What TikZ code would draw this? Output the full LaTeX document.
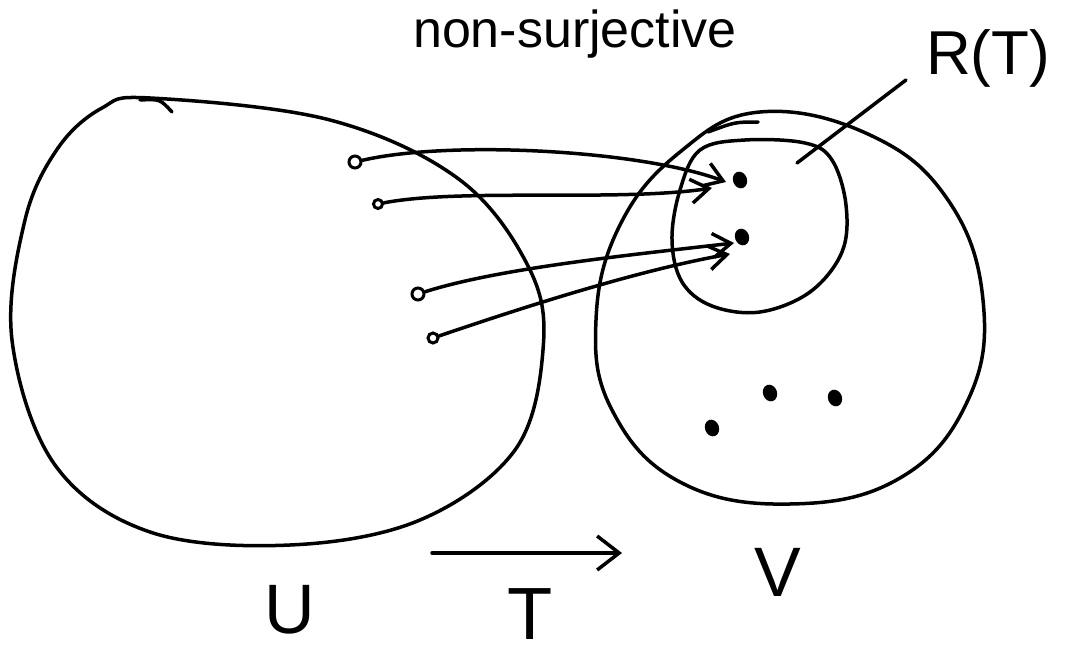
\documentclass[tikz,border=0pt]{standalone}
\usepackage{fontspec}
\setmainfont{Liberation Sans}
\usetikzlibrary{arrows.meta,shapes.geometric}
\begin{document}
\begin{tikzpicture}[x=1pt,y=-1pt,
  ink/.style={line width=3.5pt,line cap=round,line join=round},
  odot/.style={circle,draw,line width=3pt,inner sep=0pt,minimum size=12pt},
  fdot/.style={ellipse,fill,inner sep=0pt,minimum width=14pt,minimum height=17pt,rotate=20},
  maparrow/.style={ink,-{Straight Barb[length=18pt,width=24pt,line width=3.5pt]}},
  lbl/.style={inner sep=0pt}]
\useasboundingbox (0,0) rectangle (1066,661);
% U blob
\draw[ink] plot[smooth cycle,tension=0.6] coordinates {(150,98) (330,120) (460,180) (530,270) (543,350) (515,450) (420,520) (290,545) (150,532) (55,465) (12,340) (25,220) (58,148) (102,108)};
\draw[ink] (140,100) .. controls (160,99) .. (172,112);
% V blob
\draw[ink] plot[smooth cycle,tension=0.7] coordinates {(760,112) (870,135) (948,200) (983,300) (968,400) (900,478) (790,504) (680,482) (612,410) (596,320) (620,225) (680,152)};
\draw[ink] (708,132) .. controls (735,122) .. (758,122);
% R(T) blob
\draw[ink] plot[smooth cycle,tension=0.6] coordinates {(700,150) (745,140) (805,143) (832,160) (846,205) (842,252) (810,292) (760,312) (712,306) (682,282) (672,240) (680,190)};
% labels
\node[lbl,font=\fontsize{52}{56}\selectfont] (title) at (575,34) {non-surjective};
\node[lbl,font=\fontsize{62}{66}\selectfont] (rt) at (988,58) {R(T)};
\coordinate (rtin) at (797,163);
\draw[ink] (rtin) -- (906,80);
\node[lbl,font=\fontsize{70}{74}\selectfont] (U) at (290,610) {U};
\node[lbl,font=\fontsize{70}{74}\selectfont] (V) at (778,572) {V};
\node[lbl,font=\fontsize{74}{78}\selectfont] (T) at (530,614) {T};
% T arrow
\coordinate (ts) at (432,553);
\coordinate (te) at (622,553);
\draw[ink,-{Straight Barb[length=22pt,width=34pt,line width=3.5pt]}] (ts) -- (te);
% domain dots
\node[odot] (u1) at (355,162) {};
\node[odot,minimum size=9pt] (u2) at (378,204) {};
\node[odot] (u3) at (418,294) {};
\node[odot,minimum size=10pt] (u4) at (433,338) {};
% codomain dots
\node[fdot] (v1) at (740,180) {};
\node[fdot] (v2) at (742,237) {};
\node[fdot] (v3) at (770,393) {};
\node[fdot] (v4) at (835,398) {};
\node[fdot] (v5) at (712,428) {};
\coordinate (h1) at (726,182);
\coordinate (h2) at (712,188);
\coordinate (h3) at (734,243);
\coordinate (h4) at (730,254);
% mapping arrows
\draw[maparrow] (u1) .. controls (450,140) and (640,150) .. (h1);
\draw[maparrow] (u2) .. controls (460,188) and (620,202) .. (h2);
\draw[maparrow] (u3) .. controls (500,268) and (630,255) .. (h3);
\draw[maparrow] (u4) .. controls (530,305) and (640,270) .. (h4);
\end{tikzpicture}
\end{document}
